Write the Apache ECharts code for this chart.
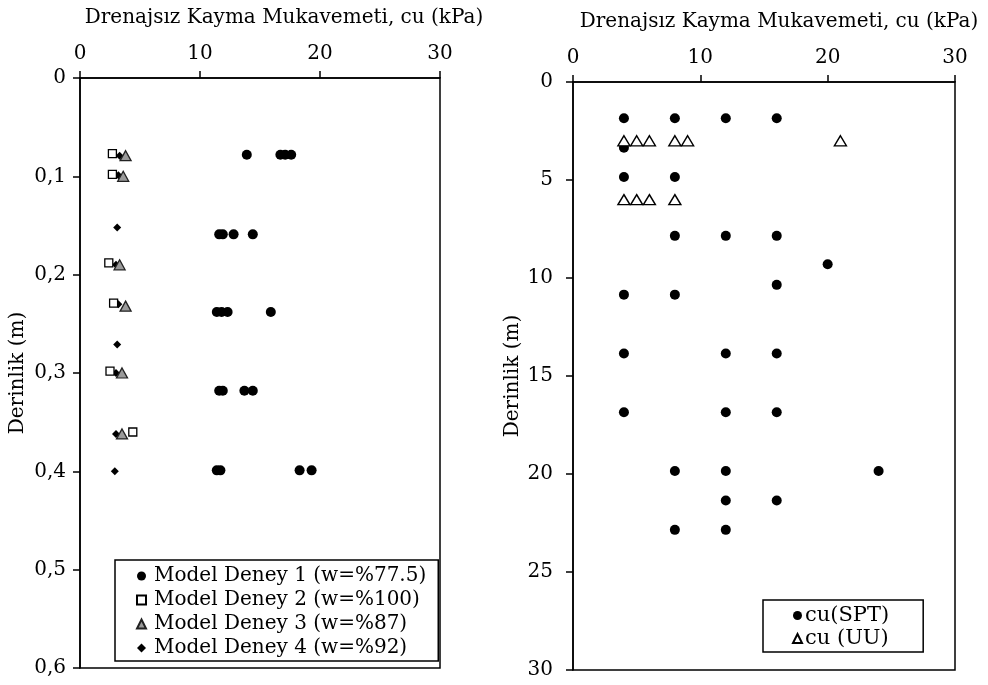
<!DOCTYPE html>
<html>
<head>
<meta charset="utf-8">
<script src="https://cdn.jsdelivr.net/npm/echarts@6/dist/echarts.min.js"></script>
<style>
  html, body { margin: 0; padding: 0; background: #fff; }
  #chart { width: 988px; height: 685px; }
</style>
</head>
<body>
<div id="chart"></div>
<script>
// Axis titles and tick setup
const xTitle = 'Drenajsız Kayma Mukavemeti, cu (kPa)';
const yTitle = 'Derinlik (m)';
const cuTicks = [0, 10, 20, 30];

// Left panel: model tests, [cu (kPa), depth (m)]
const model1 = [
  [13.9, 0.078], [16.7, 0.078], [17.1, 0.078], [17.6, 0.078],
  [11.6, 0.159], [11.9, 0.159], [12.8, 0.159], [14.4, 0.159],
  [11.4, 0.238], [11.8, 0.238], [12.3, 0.238], [15.9, 0.238],
  [11.6, 0.318], [11.9, 0.318], [13.7, 0.318], [14.4, 0.318],
  [11.4, 0.399], [11.7, 0.399], [18.3, 0.399], [19.3, 0.399]
];
const model2 = [[2.7, 0.077], [2.7, 0.098], [2.4, 0.188], [2.8, 0.229], [2.5, 0.298], [4.4, 0.36]];
const model3 = [[3.8, 0.079], [3.6, 0.100], [3.3, 0.190], [3.8, 0.232], [3.5, 0.300], [3.5, 0.362]];
const model4 = [[3.3, 0.079], [3.2, 0.099], [3.1, 0.152], [3.0, 0.190], [3.2, 0.230], [3.1, 0.271], [3.0, 0.300], [3.0, 0.362], [2.9, 0.400]];
const modelNames = [
  'Model Deney 1 (w=%77.5)',
  'Model Deney 2 (w=%100)',
  'Model Deney 3 (w=%87)',
  'Model Deney 4 (w=%92)'
];

// Right panel: field data, [cu (kPa), depth (m)]
const cuSPT = [
  [4, 1.85], [8, 1.85], [12, 1.85], [16, 1.85],
  [4, 3.35],
  [4, 4.85], [8, 4.85],
  [8, 7.85], [12, 7.85], [16, 7.85],
  [20, 9.3],
  [16, 10.35],
  [4, 10.85], [8, 10.85],
  [4, 13.85], [12, 13.85], [16, 13.85],
  [4, 16.85], [12, 16.85], [16, 16.85],
  [8, 19.85], [12, 19.85], [24, 19.85],
  [12, 21.35], [16, 21.35],
  [8, 22.85], [12, 22.85]
];
const cuUU = [[4, 3], [5, 3], [6, 3], [8, 3], [9, 3], [21, 3], [4, 6], [5, 6], [6, 6], [8, 6]];
const fieldNames = ['cu(SPT)', 'cu (UU)'];

const FONT = '"DejaVu Serif", "Liberation Serif", serif';
const FS = 20;
const INK = '#000';

const chart = echarts.init(document.getElementById('chart'), null, { renderer: 'canvas' });

function xAxisFor(gridIndex, shift) {
  return {
    gridIndex, type: 'value', position: 'top',
    min: cuTicks[0], max: cuTicks[cuTicks.length - 1], interval: 10,
    name: xTitle, nameLocation: 'middle', nameGap: 50,
    nameTextStyle: { fontFamily: FONT, fontSize: FS, color: INK, padding: [0, 0, 0, shift] },
    axisLine: { show: true, lineStyle: { color: INK, width: 1.5 } },
    axisTick: { show: true, length: 7, lineStyle: { color: INK, width: 1.5 } },
    axisLabel: { fontFamily: FONT, fontSize: FS, color: INK, margin: 14 },
    splitLine: { show: false }
  };
}

function yAxisFor(gridIndex, max, interval, gap, margin) {
  return {
    gridIndex, type: 'value', inverse: true,
    min: 0, max, interval,
    name: yTitle, nameLocation: 'middle', nameGap: gap,
    nameTextStyle: { fontFamily: FONT, fontSize: FS, color: INK },
    axisLine: { show: true, onZero: false, lineStyle: { color: INK, width: 1.5 } },
    axisTick: { show: true, length: 7, lineStyle: { color: INK, width: 1.5 } },
    axisLabel: {
      fontFamily: FONT, fontSize: FS, color: INK, margin,
      formatter: v => String(+v.toFixed(2)).replace('.', ',')
    },
    splitLine: { show: false }
  };
}

const option = {
  backgroundColor: '#fff',
  animation: false,
  grid: [
    { left: 80, top: 78, width: 360, height: 590, show: true, borderColor: INK, borderWidth: 1.5, backgroundColor: 'transparent' },
    { left: 573, top: 82, width: 382, height: 588, show: true, borderColor: INK, borderWidth: 1.5, backgroundColor: 'transparent' }
  ],
  xAxis: [xAxisFor(0, 48), xAxisFor(1, 30)],
  yAxis: [yAxisFor(0, 0.6, 0.1, 52, 14), yAxisFor(1, 30, 5, 50, 20)],
  legend: [
    {
      data: modelNames, orient: 'vertical', left: 115, top: 560,
      itemWidth: 9, itemHeight: 9, itemGap: 4,
      padding: [6, 12, 3, 21],
      borderColor: INK, borderWidth: 1.5,
      textStyle: { fontFamily: FONT, fontSize: FS, color: INK, padding: [0, 0, 0, 3] }
    },
    {
      data: fieldNames, orient: 'vertical', left: 763, top: 600,
      itemWidth: 9, itemHeight: 9, itemGap: 2,
      padding: [5, 34, 3, 29],
      borderColor: INK, borderWidth: 1.5,
      textStyle: { fontFamily: FONT, fontSize: 21, color: INK, padding: [0, 0, 0, -2] }
    }
  ],
  series: [
    {
      name: modelNames[0], type: 'scatter', xAxisIndex: 0, yAxisIndex: 0,
      data: model1, symbol: 'circle', symbolSize: 10, z: 3,
      itemStyle: { color: INK, opacity: 1 }
    },
    {
      name: modelNames[3], type: 'scatter', xAxisIndex: 0, yAxisIndex: 0,
      data: model4, symbol: 'diamond', symbolSize: 8, z: 2,
      itemStyle: { color: INK, opacity: 1 }
    },
    {
      name: modelNames[1], type: 'scatter', xAxisIndex: 0, yAxisIndex: 0,
      data: model2, symbol: 'rect', symbolSize: 8, z: 3,
      itemStyle: { color: '#fff', borderColor: INK, borderWidth: 1.3, opacity: 1 }
    },
    {
      name: modelNames[2], type: 'scatter', xAxisIndex: 0, yAxisIndex: 0,
      data: model3, symbol: 'triangle', symbolSize: [11, 10], z: 4,
      itemStyle: { color: '#9a9a9a', borderColor: '#222', borderWidth: 1.3, opacity: 1 }
    },
    {
      name: fieldNames[0], type: 'scatter', xAxisIndex: 1, yAxisIndex: 1,
      data: cuSPT, symbol: 'circle', symbolSize: 10, z: 3,
      itemStyle: { color: INK, opacity: 1 }
    },
    {
      name: fieldNames[1], type: 'scatter', xAxisIndex: 1, yAxisIndex: 1,
      data: cuUU, symbol: 'triangle', symbolSize: [12, 10], z: 4,
      itemStyle: { color: '#fff', borderColor: INK, borderWidth: 1.4, opacity: 1 }
    }
  ]
};

chart.setOption(option);
</script>
</body>
</html>
